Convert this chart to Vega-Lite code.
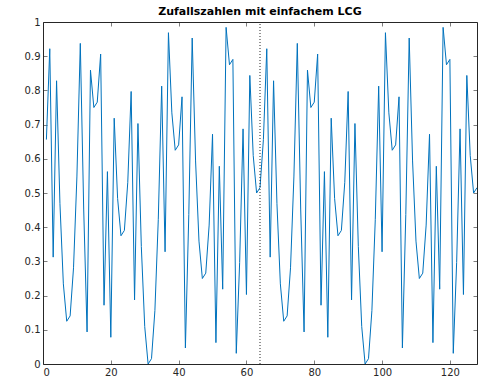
{
  "$schema": "https://vega.github.io/schema/vega-lite/v6.json",
  "autosize": "none",
  "width": 434,
  "height": 342,
  "padding": {"left": 43, "top": 22, "right": 23, "bottom": 26},
  "title": {"text": "Zufallszahlen mit einfachem LCG", "font": "DejaVu Sans", "fontSize": 11, "fontWeight": "bold", "color": "#000000", "offset": 0, "anchor": "middle"},
  "config": {
    "view": {"stroke": "#262626", "strokeWidth": 1},
    "axis": {"grid": false, "domain": false, "tickColor": "#262626", "tickWidth": 0.6, "labelColor": "#262626", "labelFont": "DejaVu Sans", "labelFontSize": 10, "titleFontSize": 0}
  },
  "datasets": {
    "lcg": [
      {"x":1,"y":0.65625},{"x":2,"y":0.921875},{"x":3,"y":0.3125},{"x":4,"y":0.828125},{"x":5,"y":0.46875},{"x":6,"y":0.234375},{"x":7,"y":0.125},{"x":8,"y":0.140625},
      {"x":9,"y":0.28125},{"x":10,"y":0.546875},{"x":11,"y":0.9375},{"x":12,"y":0.453125},{"x":13,"y":0.09375},{"x":14,"y":0.859375},{"x":15,"y":0.75},{"x":16,"y":0.765625},
      {"x":17,"y":0.90625},{"x":18,"y":0.171875},{"x":19,"y":0.5625},{"x":20,"y":0.078125},{"x":21,"y":0.71875},{"x":22,"y":0.484375},{"x":23,"y":0.375},{"x":24,"y":0.390625},
      {"x":25,"y":0.53125},{"x":26,"y":0.796875},{"x":27,"y":0.1875},{"x":28,"y":0.703125},{"x":29,"y":0.34375},{"x":30,"y":0.109375},{"x":31,"y":0},{"x":32,"y":0.015625},
      {"x":33,"y":0.15625},{"x":34,"y":0.421875},{"x":35,"y":0.8125},{"x":36,"y":0.328125},{"x":37,"y":0.96875},{"x":38,"y":0.734375},{"x":39,"y":0.625},{"x":40,"y":0.640625},
      {"x":41,"y":0.78125},{"x":42,"y":0.046875},{"x":43,"y":0.4375},{"x":44,"y":0.953125},{"x":45,"y":0.59375},{"x":46,"y":0.359375},{"x":47,"y":0.25},{"x":48,"y":0.265625},
      {"x":49,"y":0.40625},{"x":50,"y":0.671875},{"x":51,"y":0.0625},{"x":52,"y":0.578125},{"x":53,"y":0.21875},{"x":54,"y":0.984375},{"x":55,"y":0.875},{"x":56,"y":0.890625},
      {"x":57,"y":0.03125},{"x":58,"y":0.296875},{"x":59,"y":0.6875},{"x":60,"y":0.203125},{"x":61,"y":0.84375},{"x":62,"y":0.609375},{"x":63,"y":0.5},{"x":64,"y":0.515625},
      {"x":65,"y":0.65625},{"x":66,"y":0.921875},{"x":67,"y":0.3125},{"x":68,"y":0.828125},{"x":69,"y":0.46875},{"x":70,"y":0.234375},{"x":71,"y":0.125},{"x":72,"y":0.140625},
      {"x":73,"y":0.28125},{"x":74,"y":0.546875},{"x":75,"y":0.9375},{"x":76,"y":0.453125},{"x":77,"y":0.09375},{"x":78,"y":0.859375},{"x":79,"y":0.75},{"x":80,"y":0.765625},
      {"x":81,"y":0.90625},{"x":82,"y":0.171875},{"x":83,"y":0.5625},{"x":84,"y":0.078125},{"x":85,"y":0.71875},{"x":86,"y":0.484375},{"x":87,"y":0.375},{"x":88,"y":0.390625},
      {"x":89,"y":0.53125},{"x":90,"y":0.796875},{"x":91,"y":0.1875},{"x":92,"y":0.703125},{"x":93,"y":0.34375},{"x":94,"y":0.109375},{"x":95,"y":0},{"x":96,"y":0.015625},
      {"x":97,"y":0.15625},{"x":98,"y":0.421875},{"x":99,"y":0.8125},{"x":100,"y":0.328125},{"x":101,"y":0.96875},{"x":102,"y":0.734375},{"x":103,"y":0.625},{"x":104,"y":0.640625},
      {"x":105,"y":0.78125},{"x":106,"y":0.046875},{"x":107,"y":0.4375},{"x":108,"y":0.953125},{"x":109,"y":0.59375},{"x":110,"y":0.359375},{"x":111,"y":0.25},{"x":112,"y":0.265625},
      {"x":113,"y":0.40625},{"x":114,"y":0.671875},{"x":115,"y":0.0625},{"x":116,"y":0.578125},{"x":117,"y":0.21875},{"x":118,"y":0.984375},{"x":119,"y":0.875},{"x":120,"y":0.890625},
      {"x":121,"y":0.03125},{"x":122,"y":0.296875},{"x":123,"y":0.6875},{"x":124,"y":0.203125},{"x":125,"y":0.84375},{"x":126,"y":0.609375},{"x":127,"y":0.5},{"x":128,"y":0.515625}
    ],
    "sep": [{"x": 64, "y0": 0, "y1": 1}]
  },
  "layer": [
    {
      "data": {"name": "lcg"},
      "mark": {"type": "line", "color": "#0072BD", "strokeWidth": 1, "clip": true},
      "encoding": {
        "x": {"field": "x", "type": "quantitative", "scale": {"domain": [0, 128], "nice": false, "zero": false},
              "axis": {"orient": "bottom", "values": [0, 20, 40, 60, 80, 100, 120], "tickSize": -4, "labelPadding": 7, "title": null}},
        "y": {"field": "y", "type": "quantitative", "scale": {"domain": [0, 1], "nice": false},
              "axis": {"orient": "left", "values": [0, 0.1, 0.2, 0.3, 0.4, 0.5, 0.6, 0.7, 0.8, 0.9, 1], "tickSize": -4, "labelPadding": 7, "labelExpr": "datum.value == 0 ? '0' : datum.value == 1 ? '1' : format(datum.value, '.1f')", "title": null}}
      }
    },
    {
      "data": {"name": "sep"},
      "mark": {"type": "rule", "color": "#262626", "strokeWidth": 1, "strokeDash": [1, 2]},
      "encoding": {
        "x": {"field": "x", "type": "quantitative",
              "axis": {"orient": "top", "values": [0, 20, 40, 60, 80, 100, 120], "tickSize": -4, "labels": false, "title": null}},
        "y": {"field": "y0", "type": "quantitative",
              "axis": {"orient": "right", "values": [0, 0.1, 0.2, 0.3, 0.4, 0.5, 0.6, 0.7, 0.8, 0.9, 1], "tickSize": -4, "labels": false, "title": null}},
        "y2": {"field": "y1"}
      }
    }
  ],
  "resolve": {"axis": {"x": "independent", "y": "independent"}}
}
